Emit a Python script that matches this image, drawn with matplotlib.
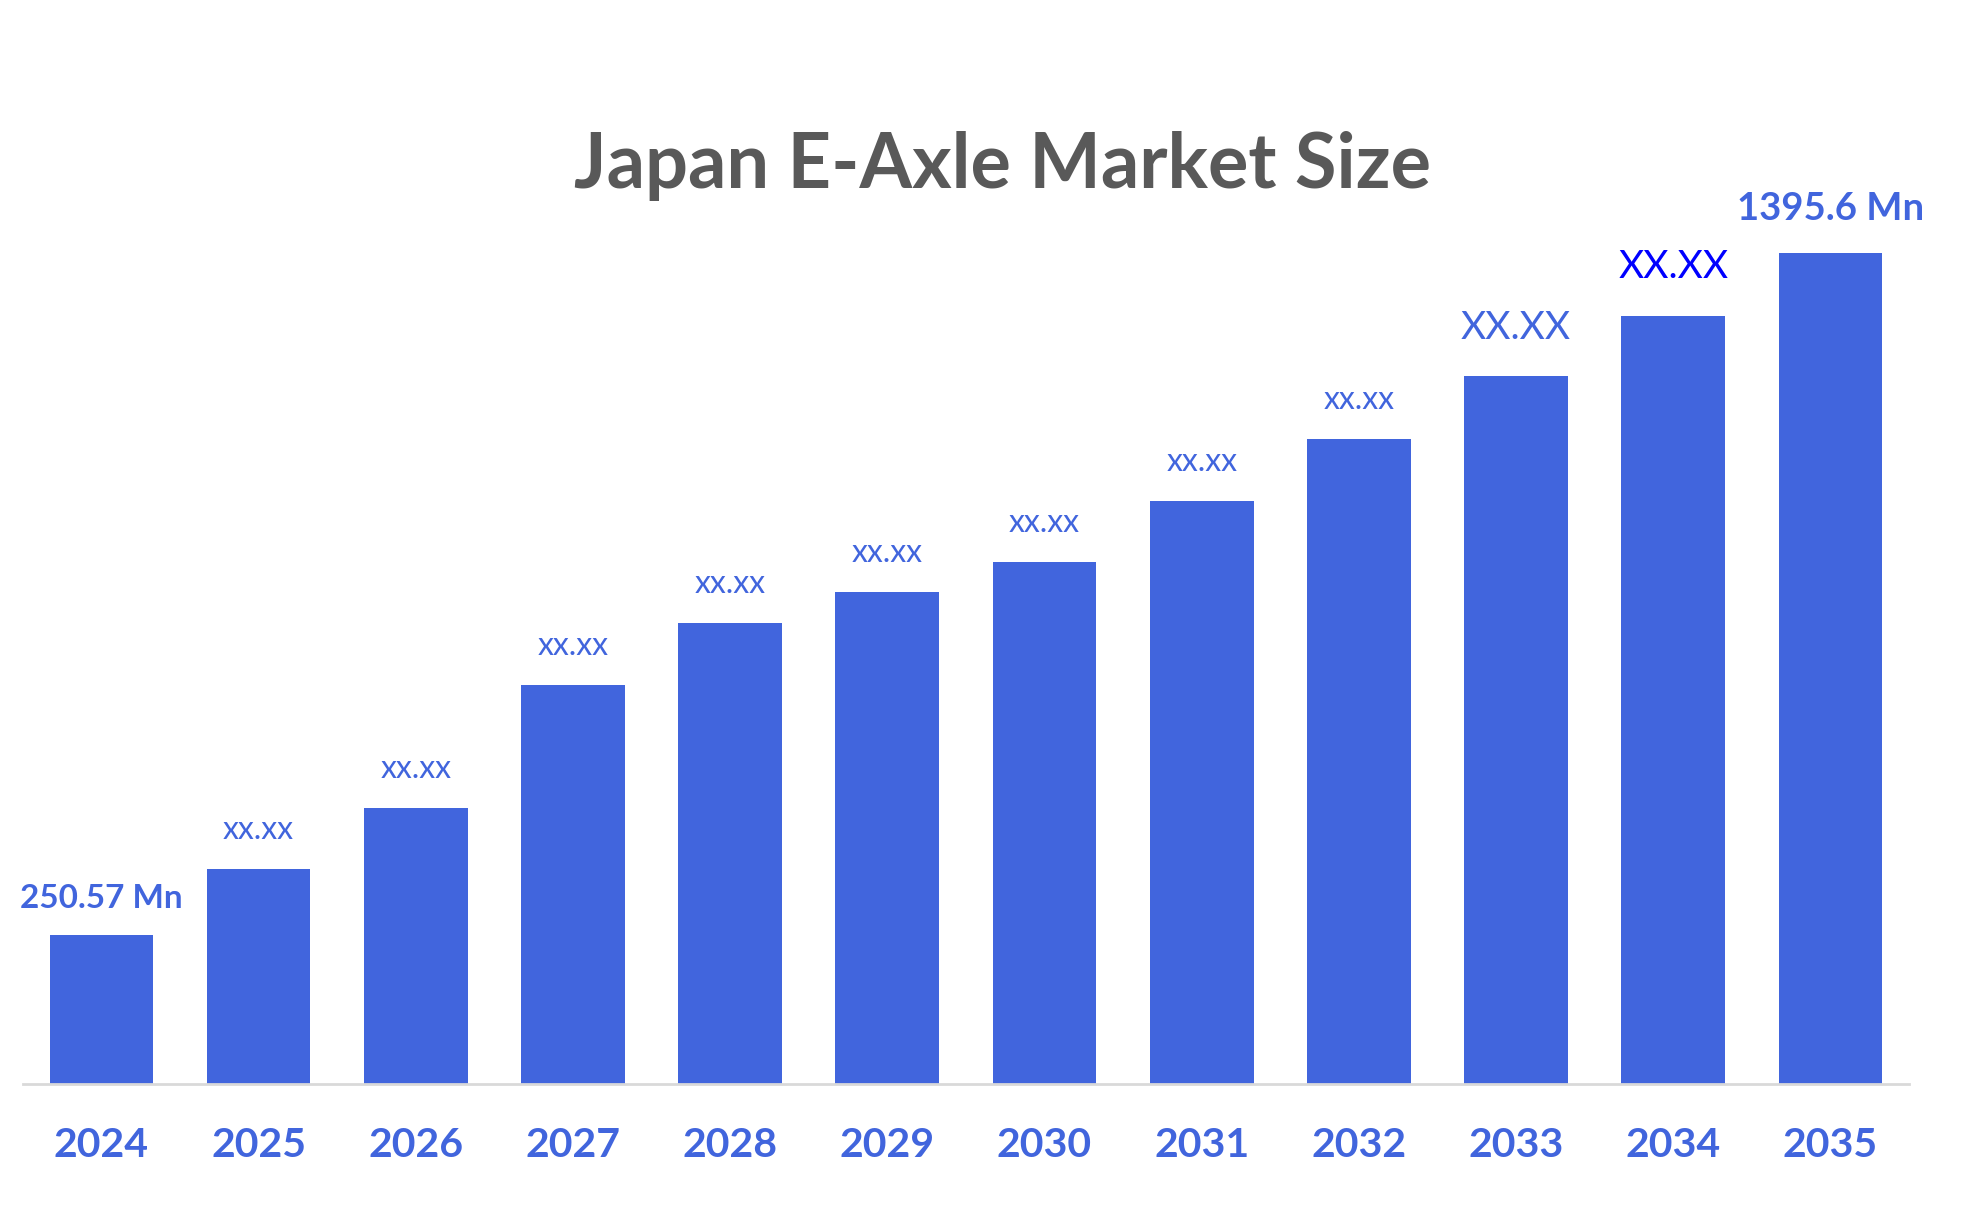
import matplotlib
matplotlib.use("Agg")
import matplotlib.pyplot as plt

years = ['2024', '2025', '2026', '2027', '2028', '2029',
         '2030', '2031', '2032', '2033', '2034', '2035']
values = [250.57, 361, 463, 670, 775, 826, 877, 980, 1084, 1189, 1291, 1395.6]
labels = ['250.57 Mn', 'xx.xx', 'xx.xx', 'xx.xx', 'xx.xx', 'xx.xx',
          'xx.xx', 'xx.xx', 'xx.xx', 'XX.XX', 'XX.XX', '1395.6 Mn']

bar_color = '#4165DD'
plt.rcParams['font.family'] = ['Lato', 'DejaVu Sans']

fig = plt.figure(figsize=(19.66, 12.19), dpi=100)
ax = fig.add_axes([0.0116, 0.111, 0.9594, 0.733])

x = range(len(years))
bars = ax.bar(x, values, width=0.66, color=bar_color, zorder=2)

# label style per bar: (fontsize, weight, color, offset in points)
for i, (b, lab) in enumerate(zip(bars, labels)):
    if lab.endswith('Mn'):
        fs, fw, col, off = (24, 'bold', bar_color, 26) if i == 0 else (27.5, 'bold', bar_color, 32)
    elif lab == 'XX.XX':
        fs, fw, col, off = 28, 'normal', ('#0000FF' if years[i] == '2034' else bar_color), 35
    else:
        fs, fw, col, off = 23, 'normal', bar_color, 28
    ax.annotate(lab, (b.get_x() + b.get_width() / 2, b.get_height()),
                xytext=(0, off), textcoords='offset points',
                ha='center', va='center', fontsize=fs, fontweight=fw, color=col)

ax.set_xlim(-0.5, 11.5)
ax.set_ylim(0, 1502)
ax.set_xticks(list(x))
ax.set_xticklabels(years, fontsize=29.5, fontweight='bold', color=bar_color)
ax.tick_params(axis='x', length=0, pad=31)
ax.set_yticks([])
for s in ['top', 'right', 'left']:
    ax.spines[s].set_visible(False)
ax.spines['bottom'].set_color('#D9D9D9')
ax.spines['bottom'].set_linewidth(2)

fig.text(0.510, 0.864, 'Japan E-Axle Market Size', ha='center', va='center',
         fontsize=54.5, fontweight='bold', color='#595959')

fig.savefig('out.png', dpi=100)
